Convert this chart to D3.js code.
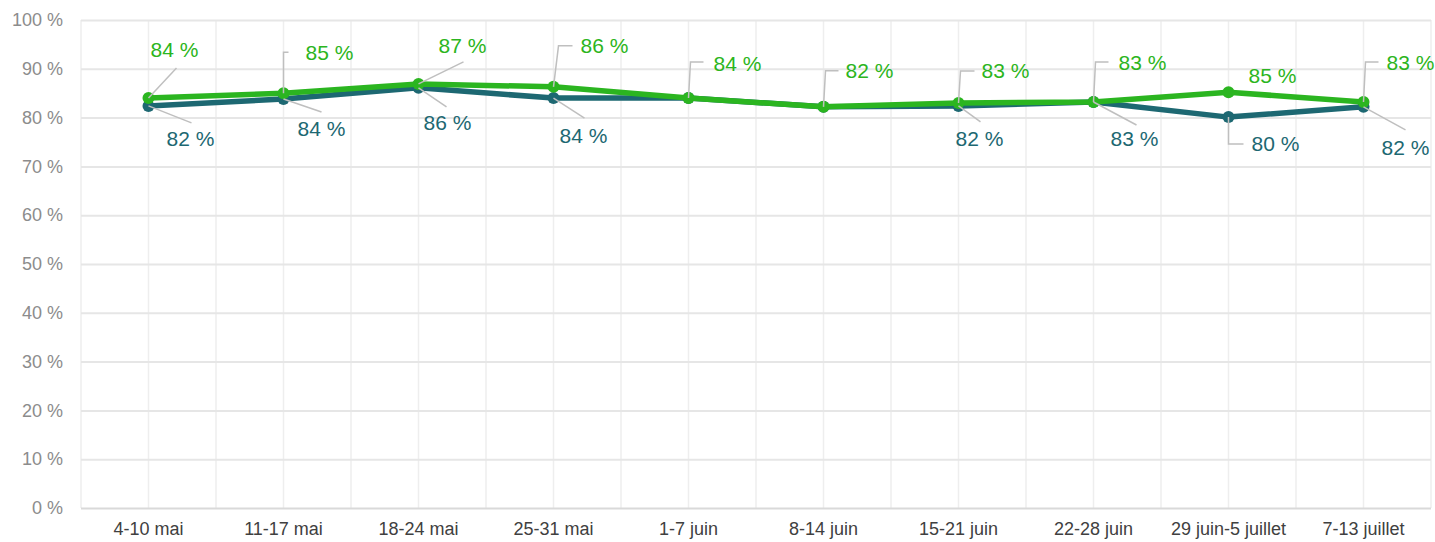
<!DOCTYPE html>
<html>
<head>
<meta charset="utf-8">
<script src="https://cdn.jsdelivr.net/npm/d3@7"></script>
<style>
  body { margin: 0; background: #fff; }
  svg text { font-family: "Liberation Sans", Arial, sans-serif; }
</style>
</head>
<body>
<div id="chart"></div>
<script>
// categories (weeks)
var weeks = ['4-10 mai', '11-17 mai', '18-24 mai', '25-31 mai', '1-7 juin',
             '8-14 juin', '15-21 juin', '22-28 juin', '29 juin-5 juillet', '7-13 juillet'];

// series values, in percent
var greenValues = [84.0, 85.0, 86.9, 86.3, 84.0, 82.2, 83.0, 83.2, 85.2, 83.2];
var tealValues  = [82.4, 83.8, 86.1, 84.0, 84.0, 82.2, 82.4, 83.2, 80.1, 82.2];

// y ticks
var yTicks = [0, 10, 20, 30, 40, 50, 60, 70, 80, 90, 100];

// label placement: text offset [dx, dy] from point, leader polyline offsets
var greenLabelLayout = [
    {t: [2, -41],  lead: [[28, -30]]},
    {t: [22, -33], lead: [[0, -41], [5, -41]]},
    {t: [20, -31], lead: [[45, -22]]},
    {t: [27, -34], lead: [[5, -41], [19, -41]]},
    {t: [25, -27], lead: [[2, -36], [15, -36]]},
    {t: [22, -29], lead: [[2, -36], [15, -36]]},
    {t: [23, -25], lead: [[2, -32], [16, -32]]},
    {t: [25, -32], lead: [[2, -40], [15, -40]]},
    {t: [20, -9],  lead: []},
    {t: [23, -32], lead: [[2, -40], [15, -40]]}
];
var tealLabelLayout = [
    {t: [18, 40], lead: [[43, 17]]},
    {t: [14, 37], lead: [[38, 13]]},
    {t: [5, 42],  lead: [[28, 19]]},
    {t: [6, 45],  lead: [[31, 20]]},
    null,
    null,
    {t: [-3, 40], lead: [[22, 16]]},
    {t: [17, 44], lead: [[43, 23]]},
    {t: [23, 34], lead: [[0, 27], [15, 27]]},
    {t: [18, 48], lead: [[42, 23]]}
];

var greenColor = '#2bb520';
var tealColor = '#1d6872';

var width = 1435, height = 542;
var margin = {top: 20, right: 4, bottom: 34, left: 81};

var svg = d3.select('#chart').append('svg')
    .attr('width', width)
    .attr('height', height);

var x = d3.scaleBand()
    .domain(weeks)
    .range([margin.left, width - margin.right]);

var y = d3.scaleLinear()
    .domain([0, 100])
    .range([height - margin.bottom, margin.top]);

// vertical gridlines at band edges and band centres
var vLines = [];
weeks.forEach(function(w) {
    vLines.push(x(w));
    vLines.push(x(w) + x.bandwidth() / 2);
});
vLines.push(x.range()[1]);

svg.append('g')
    .selectAll('line')
    .data(vLines)
    .enter()
    .append('line')
    .attr('x1', function(d) { return d; })
    .attr('x2', function(d) { return d; })
    .attr('y1', y(100))
    .attr('y2', y(0))
    .attr('stroke', '#eeeeee')
    .attr('stroke-width', 1.5);

// horizontal gridlines + y axis
var yAxis = d3.axisLeft(y)
    .tickValues(yTicks)
    .tickSize(-(x.range()[1] - x.range()[0]))
    .tickPadding(18)
    .tickFormat(function(d) { return d + ' %'; });

var gy = svg.append('g')
    .attr('transform', 'translate(' + margin.left + ',0)')
    .call(yAxis);
gy.select('.domain').remove();
gy.selectAll('line')
    .attr('stroke', function(d) { return d === 0 ? '#d9d9d9' : '#e6e6e6'; })
    .attr('stroke-width', 2);
gy.selectAll('text')
    .attr('fill', '#8c8c8c')
    .style('font-size', '18px');

// x axis labels
var xAxis = d3.axisBottom(x).tickSize(0).tickPadding(14);
var gx = svg.append('g')
    .attr('transform', 'translate(0,' + y(0) + ')')
    .call(xAxis);
gx.select('.domain').remove();
gx.selectAll('text')
    .attr('fill', '#404040')
    .style('font-size', '18px');

function drawSeries(values, color, layout) {
    var pts = values.map(function(v, i) {
        return {x: x(weeks[i]) + x.bandwidth() / 2, y: y(v), v: v, lay: layout[i]};
    });

    var line = d3.line()
        .x(function(d) { return d.x; })
        .y(function(d) { return d.y; });

    svg.append('path')
        .datum(pts)
        .attr('d', line)
        .attr('fill', 'none')
        .attr('stroke', color)
        .attr('stroke-width', 5.5)
        .attr('stroke-linejoin', 'round');

    svg.append('g')
        .selectAll('circle')
        .data(pts)
        .enter()
        .append('circle')
        .attr('cx', function(d) { return d.x; })
        .attr('cy', function(d) { return d.y; })
        .attr('r', 6)
        .attr('fill', color);

    return pts;
}

function drawLabels(pts, color) {
    var withLabel = pts.filter(function(d) { return d.lay; });

    var leadLine = d3.line()
        .x(function(d) { return d[0]; })
        .y(function(d) { return d[1]; });

    svg.append('g')
        .selectAll('path')
        .data(withLabel.filter(function(d) { return d.lay.lead.length; }))
        .enter()
        .append('path')
        .attr('d', function(d) {
            var p = [[d.x, d.y]].concat(d.lay.lead.map(function(o) { return [d.x + o[0], d.y + o[1]]; }));
            return leadLine(p);
        })
        .attr('fill', 'none')
        .attr('stroke', '#bfbfbf')
        .attr('stroke-width', 1.5);

    svg.append('g')
        .selectAll('text')
        .data(withLabel)
        .enter()
        .append('text')
        .attr('x', function(d) { return d.x + d.lay.t[0]; })
        .attr('y', function(d) { return d.y + d.lay.t[1]; })
        .attr('fill', color)
        .style('font-size', '21px')
        .text(function(d) { return Math.round(d.v) + ' %'; });
}

var tealPts = drawSeries(tealValues, tealColor, tealLabelLayout);
var greenPts = drawSeries(greenValues, greenColor, greenLabelLayout);
drawLabels(tealPts, tealColor);
drawLabels(greenPts, greenColor);
</script>
</body>
</html>
